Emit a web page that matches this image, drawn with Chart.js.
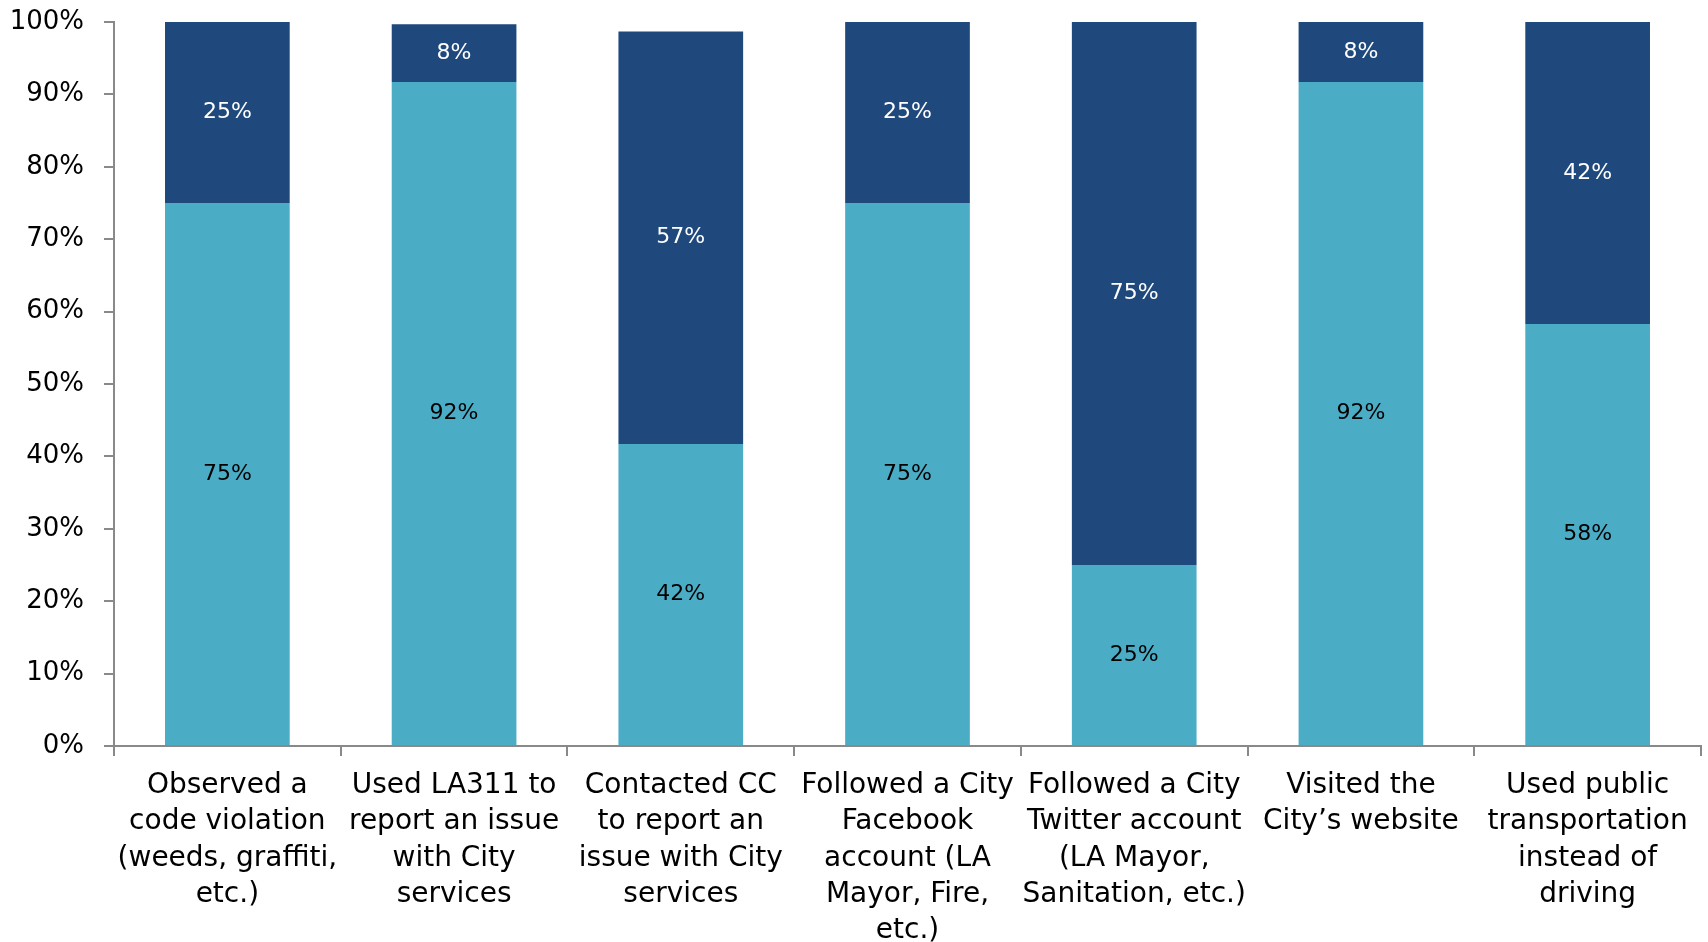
<!DOCTYPE html>
<html>
<head>
<meta charset="utf-8">
<script src="https://cdn.jsdelivr.net/npm/chart.js@4/dist/chart.umd.min.js"></script>
<style>
  html, body { margin: 0; padding: 0; background: #fff; }
  canvas { display: block; }
</style>
</head>
<body>
<canvas id="surveyChart" width="1708" height="942"></canvas>
<script>
// categories (multi-line labels)
const categories = [
    ['Observed a', 'code violation', '(weeds, graffiti,', 'etc.)'],
    ['Used LA311 to', 'report an issue', 'with City', 'services'],
    ['Contacted CC', 'to report an', 'issue with City', 'services'],
    ['Followed a City', 'Facebook', 'account (LA', 'Mayor, Fire,', 'etc.)'],
    ['Followed a City', 'Twitter account', '(LA Mayor,', 'Sanitation, etc.)'],
    ['Visited the', 'City\u2019s website'],
    ['Used public', 'transportation', 'instead of', 'driving']
];

// series values (percent)
const lowerValues = [75, 91.7, 41.7, 75, 25, 91.7, 58.3];
const upperValues = [25, 8, 57, 25, 75, 8.3, 41.7];

// labels shown on the bars
const lowerLabels = ['75%', '92%', '42%', '75%', '25%', '92%', '58%'];
const upperLabels = ['25%', '8%', '57%', '25%', '75%', '8%', '42%'];

// y tick labels
const yTicks = [0, 10, 20, 30, 40, 50, 60, 70, 80, 90, 100];

const FONT = "'DejaVu Sans', sans-serif";
const AXIS_GRAY = '#898989';

// draws the value text in the middle of every bar segment
const barLabels = {
    id: 'barLabels',
    afterDatasetsDraw(chart) {
        const ctx = chart.ctx;
        ctx.save();
        ctx.font = '22px ' + FONT;
        ctx.textAlign = 'center';
        ctx.textBaseline = 'middle';
        chart.data.datasets.forEach((ds, di) => {
            const meta = chart.getDatasetMeta(di);
            meta.data.forEach((bar, i) => {
                ctx.fillStyle = ds.labelColor;
                ctx.fillText(ds.valueLabels[i], bar.x, (bar.y + bar.base) / 2);
            });
        });
        ctx.restore();
    }
};

var ctx = document.getElementById('surveyChart').getContext('2d');
new Chart(ctx, {
    type: 'bar',
    data: {
        labels: categories,
        datasets: [
            {
                label: 'Yes',
                data: lowerValues,
                valueLabels: lowerLabels,
                labelColor: '#000000',
                backgroundColor: '#4BACC6',
                barPercentage: 0.55,
                categoryPercentage: 1
            },
            {
                label: 'No',
                data: upperValues,
                valueLabels: upperLabels,
                labelColor: '#ffffff',
                backgroundColor: '#1F497D',
                barPercentage: 0.55,
                categoryPercentage: 1
            }
        ]
    },
    options: {
        responsive: false,
        animation: false,
        layout: { padding: { top: 22, right: 7, left: 0, bottom: 0 } },
        plugins: {
            legend: { display: false },
            tooltip: { enabled: false }
        },
        scales: {
            x: {
                stacked: true,
                border: { display: true, color: AXIS_GRAY, width: 2 },
                grid: {
                    display: true,
                    offset: true,
                    drawOnChartArea: false,
                    drawTicks: true,
                    tickLength: 10,
                    color: AXIS_GRAY,
                    lineWidth: 2
                },
                ticks: {
                    color: '#000',
                    font: { family: FONT, size: 28, lineHeight: 1.29 },
                    maxRotation: 0,
                    autoSkip: false,
                    padding: 12
                },
                afterFit: function(scale) { scale.height = 196; }
            },
            y: {
                stacked: true,
                min: 0,
                max: 100,
                border: { display: true, color: AXIS_GRAY, width: 2 },
                grid: {
                    display: true,
                    drawOnChartArea: false,
                    drawTicks: true,
                    tickLength: 10,
                    color: AXIS_GRAY,
                    lineWidth: 2
                },
                afterBuildTicks: function(scale) {
                    scale.ticks = yTicks.map(v => ({ value: v }));
                },
                ticks: {
                    color: '#000',
                    font: { family: FONT, size: 26 },
                    padding: 20,
                    callback: function(v) { return v + '%'; }
                },
                afterFit: function(scale) {
                    scale.width = 114;
                    scale.paddingTop = 0;
                    scale.paddingBottom = 0;
                }
            }
        }
    },
    plugins: [barLabels]
});
</script>
</body>
</html>
